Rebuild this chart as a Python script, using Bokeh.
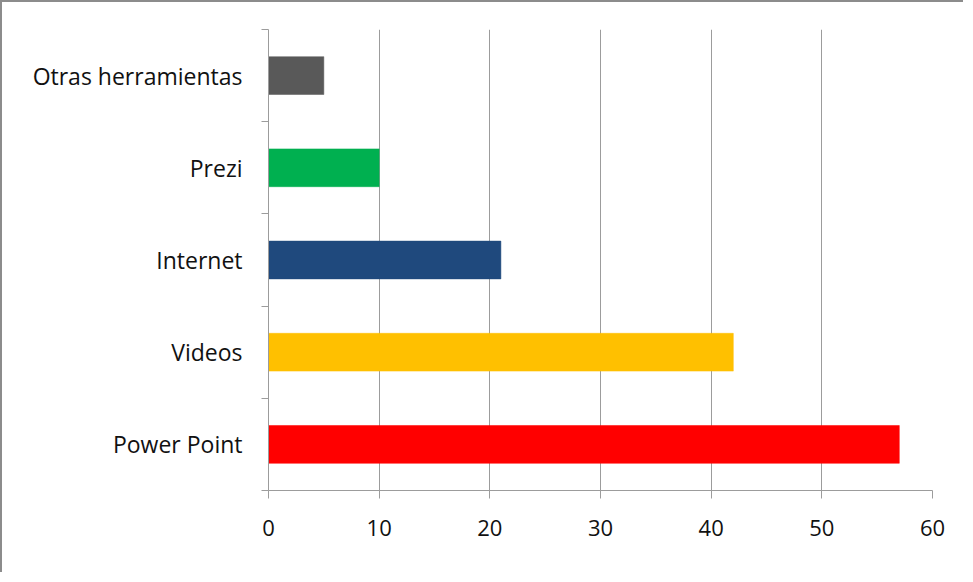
from bokeh.plotting import figure
from bokeh.models import Range1d, FixedTicker, ColumnDataSource
from bokeh.embed import file_html
from bokeh.resources import INLINE

categories = ["Power Point", "Videos", "Internet", "Prezi", "Otras herramientas"]
values = [57, 42, 21, 10, 5]
colors = ["#FF0000", "#FFC000", "#1F497D", "#00B050", "#595959"]
x_ticks = [0, 10, 20, 30, 40, 50, 60]

positions = [i + 0.5 for i in range(len(categories))]
src = ColumnDataSource(dict(y=positions, right=values, color=colors, cat=categories))

FONT = "Open Sans"
GRAY = "#9c9c9c"

p = figure(width=963, height=572, output_backend="svg", toolbar_location=None,
           x_range=Range1d(0, 60), y_range=Range1d(0, len(categories)),
           min_border_left=266, min_border_right=33, min_border_top=27, min_border_bottom=84,
           background_fill_color="white", border_fill_color="white")
p.styles = {"border-left": "2px solid #8c8c8c", "border-top": "2px solid #8c8c8c"}
p.outline_line_color = None

p.hbar(y="y", left=0, right="right", height=0.41, fill_color="color", line_color="color",
       line_alpha=0.5, source=src)

# x axis
p.xaxis.ticker = FixedTicker(ticks=x_ticks)
p.xaxis.axis_line_color = GRAY
p.xaxis.major_tick_line_color = GRAY
p.xaxis.major_tick_out = 8
p.xaxis.major_tick_in = 0
p.xaxis.minor_tick_line_color = None
p.xaxis.major_label_standoff = 21
p.xaxis.major_label_text_font = FONT
p.xaxis.major_label_text_font_size = "22px"
p.xaxis.major_label_text_color = "#111111"

# y axis: labels at category centres, tick marks at boundaries
p.yaxis.ticker = FixedTicker(ticks=positions, minor_ticks=list(range(len(categories) + 1)))
p.yaxis.major_label_overrides = {pos: c for pos, c in zip(positions, categories)}
p.yaxis.axis_line_color = GRAY
p.yaxis.major_tick_line_color = None
p.yaxis.major_tick_out = 0
p.yaxis.major_tick_in = 0
p.yaxis.minor_tick_line_color = GRAY
p.yaxis.minor_tick_out = 7
p.yaxis.minor_tick_in = 0
p.yaxis.major_label_standoff = 19
p.yaxis.major_label_text_font = FONT
p.yaxis.major_label_text_font_size = "23px"
p.yaxis.major_label_text_color = "#111111"

p.xgrid.ticker = FixedTicker(ticks=x_ticks)
p.xgrid.grid_line_color = GRAY
p.xgrid.grid_line_width = 1
p.ygrid.grid_line_color = None

open("out.html", "w").write(file_html(p, INLINE))
